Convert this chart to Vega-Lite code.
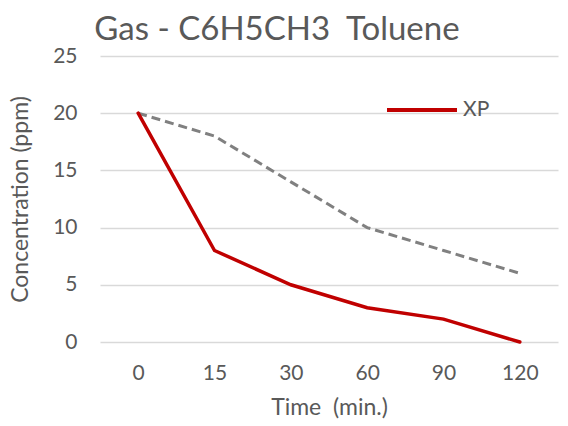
{
  "$schema": "https://vega.github.io/schema/vega-lite/v6.json",
  "width": 458,
  "height": 286,
  "autosize": "none",
  "padding": {"left": 100, "top": 56, "right": 10, "bottom": 84},
  "background": "white",
  "config": {
    "view": {"stroke": null},
    "font": "Lato",
    "axis": {"labelColor": "#595959", "titleColor": "#595959", "labelFont": "Lato", "titleFont": "Lato", "titleFontWeight": "normal"}
  },
  "title": {"text": "Gas - C6H5CH3\u00a0\u00a0Toluene", "anchor": "middle", "dx": -52, "offset": -2, "fontSize": 33, "fontWeight": "normal", "color": "#595959", "font": "Lato"},
  "data": {"values": [
    {"t": "0", "xp": 20, "other": 20},
    {"t": "15", "xp": 8, "other": 18},
    {"t": "30", "xp": 5, "other": 14},
    {"t": "60", "xp": 3, "other": 10},
    {"t": "90", "xp": 2, "other": 8},
    {"t": "120", "xp": 0, "other": 6}
  ]},
  "encoding": {
    "x": {"field": "t", "type": "ordinal", "sort": null, "scale": {"paddingInner": 0, "paddingOuter": 0.5, "padding": 1},
      "axis": {"title": "Time\u00a0\u00a0(min.)", "labelAngle": 0, "labelFontSize": 21, "titleFontSize": 23, "domain": false, "ticks": false, "labelPadding": 20, "titlePadding": 13}},
    "y": {"type": "quantitative", "scale": {"domain": [0, 25]},
      "axis": {"title": "Concentration (ppm)", "values": [0, 5, 10, 15, 20, 25], "labelFontSize": 21, "titleFontSize": 23, "domain": false, "ticks": false, "labelPadding": 23, "titlePadding": 20, "gridColor": "#D9D9D9", "gridWidth": 1.3}}
  },
  "layer": [
    {"mark": {"type": "line", "color": "#808080", "strokeWidth": 3, "strokeDash": [9, 5]},
     "encoding": {"y": {"field": "other", "type": "quantitative"}}},
    {"mark": {"type": "line", "strokeWidth": 3.5, "strokeCap": "round"},
     "encoding": {"y": {"field": "xp", "type": "quantitative"},
       "color": {"datum": "XP", "scale": {"range": ["#C00000"]},
         "legend": {"title": null, "orient": "none", "legendX": 285, "legendY": 17, "symbolType": "stroke", "symbolSize": 4900, "symbolStrokeWidth": 4, "labelFontSize": 21, "labelColor": "#595959", "labelFont": "Lato", "padding": 0, "labelOffset": 4}}}}
  ]
}
